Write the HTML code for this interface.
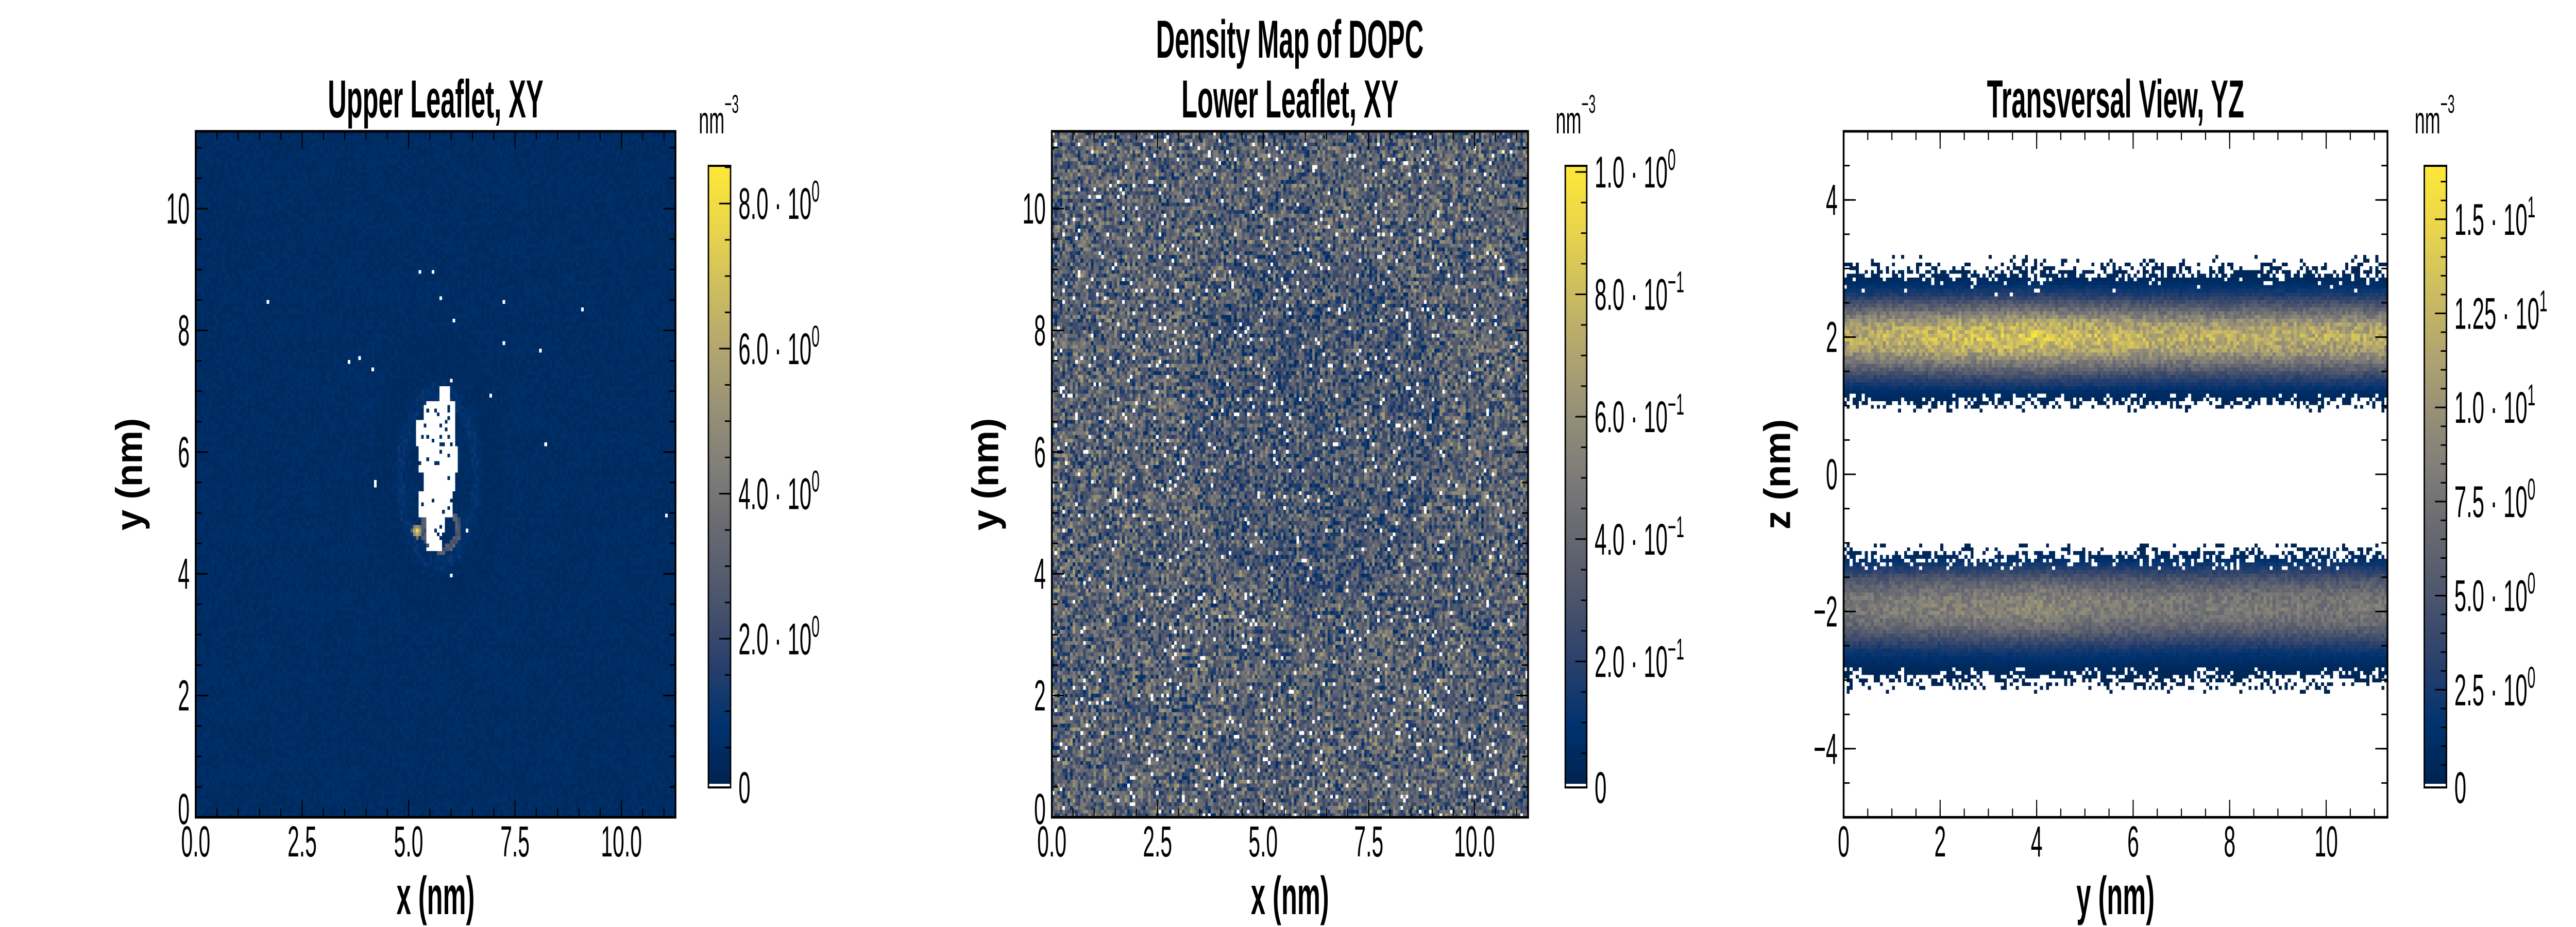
<!DOCTYPE html>
<html><head><meta charset="utf-8">
<style>
html,body{margin:0;padding:0;background:#fff;width:100%;height:100%;overflow:hidden;}
#root{position:absolute;left:0;top:0;width:7200px;height:1800px;overflow:hidden;background:#fff;transform-origin:0 0;}
canvas{position:absolute;image-rendering:pixelated;image-rendering:crisp-edges;}
svg{position:absolute;left:0;top:0;overflow:hidden;}
text{font-family:"Liberation Sans",sans-serif;fill:#000;}
</style></head>
<body>
<div id="root">
<svg id="ov" width="7200" height="1800" viewBox="0 0 7200 1800"></svg>
</div>
<script>
// ---------- data ----------
const upperBackground = [0.55];
const holeRowY  = [6.85, 6.6, 6.3, 5.9, 5.5, 5.15, 4.9, 4.6];
const holeRowX0 = [5.73, 5.34, 5.15, 5.21, 5.34, 5.21, 5.41, 5.45];
const holeRowX1 = [5.99, 6.12, 6.12, 6.18, 6.12, 6.05, 5.86, 5.81];
const emptyX = [1.72,5.24,5.60,5.78,7.22,9.10,6.09,7.22,8.11,3.60,3.85,4.15,6.03,6.91,8.24,4.22,6.35,5.98,11.04];
const emptyY = [8.49,8.98,8.98,8.55,8.49,8.37,8.17,7.79,7.67,7.48,7.55,7.36,7.17,6.93,6.11,5.48,4.74,3.98,4.98];
const hotX = [5.2];
const hotY = [4.7];
const hotV = [8.4];
const lowerMean = [0.36];
const lowerSpread = [0.22];
const lowerEmptyFrac = [0.03];
const zPos   = [-3.2,-3.0,-2.8,-2.6,-2.4,-2.2,-2.0,-1.8,-1.6,-1.4,-1.2,-1.0, 0.9, 1.0, 1.2, 1.4, 1.6, 1.8, 2.0, 2.2, 2.4, 2.6, 2.8, 3.0, 3.2];
const zDens  = [ 0.0, 0.3, 0.8, 2.0, 4.2, 6.8, 8.2, 8.0, 6.0, 3.2, 0.9, 0.0, 0.0, 0.3, 1.2, 3.5, 7.2,11.0,12.6,10.8, 6.5, 3.0, 1.0, 0.3, 0.0];
const zOccup = [ 0.0, 0.45,1.0,1.0, 1.0, 1.0, 1.0, 1.0, 1.0, 1.0, 0.55,0.0, 0.0, 0.35,1.0, 1.0, 1.0, 1.0, 1.0, 1.0, 1.0, 1.0, 0.95,0.35,0.0];
const yModPos = [0, 2, 4, 5, 7, 9, 11.3];
const yModVal = [0.95, 1.05, 1.12, 1.05, 0.97, 0.97, 0.97];
const xyTicks = [0, 2.5, 5, 7.5, 10];
const xyTickLabels = ["0.0","2.5","5.0","7.5","10.0"];
const yTicks = [0,2,4,6,8,10];
const yzXTicks = [0,2,4,6,8,10];
const zTicks = [-4,-2,0,2,4];
const zTickLabels = ["\u22124","\u22122","0","2","4"];
const cb1Ticks = [2,4,6,8], cb1Mant = ["2.0","4.0","6.0","8.0"], cb1Exp = ["0","0","0","0"];
const cb2Ticks = [0.2,0.4,0.6,0.8,1.0], cb2Mant = ["2.0","4.0","6.0","8.0","1.0"], cb2Exp = ["\u22121","\u22121","\u22121","\u22121","0"];
const cb3Ticks = [2.5,5,7.5,10,12.5,15], cb3Mant = ["2.5","5.0","7.5","1.0","1.25","1.5"], cb3Exp = ["0","0","0","1","1","1"];

// ---------- helpers ----------
const NS="http://www.w3.org/2000/svg";
const ov=document.getElementById('ov');
const root=document.getElementById('root');
const SX=0.7;
const stops=[[0,[0,34,78]],[0.1,[0,50,111]],[0.2,[42,64,108]],[0.3,[74,84,108]],[0.4,[101,103,112]],[0.5,[124,123,120]],[0.6,[149,143,119]],[0.7,[177,165,111]],[0.8,[205,189,96]],[0.9,[233,213,76]],[1,[254,232,56]]];
function cmap(t){t=Math.max(0,Math.min(1,t));for(let i=1;i<stops.length;i++){if(t<=stops[i][0]){const a=stops[i-1],b=stops[i];const f=(t-a[0])/(b[0]-a[0]);return [0,1,2].map(k=>Math.round(a[1][k]+(b[1][k]-a[1][k])*f));}}return stops[stops.length-1][1];}
function hash(i,j,s){let h=(i*374761393+j*668265263+s*982451653)|0;h=(h^(h>>>13))*1274126177|0;h=h^(h>>>16);return ((h>>>0)%100000)/100000;}
function interp(xs,ys,x){if(x<=xs[0])return ys[0];for(let i=1;i<xs.length;i++){if(x<=xs[i]){const f=(x-xs[i-1])/(xs[i]-xs[i-1]);return ys[i-1]+(ys[i]-ys[i-1])*f;}}return ys[ys.length-1];}
function el(tag,attrs,parent){const e=document.createElementNS(NS,tag);for(const k in attrs)e.setAttribute(k,attrs[k]);(parent||ov).appendChild(e);return e;}
function txt(x,y,s,size,anchor,weight,parent,rot){
  const t=el('text',{x:0,y:0,'font-size':size,'text-anchor':anchor||'middle','font-weight':weight||'normal',
    transform:'translate('+x+' '+y+')'+(rot?' rotate('+rot+')':'')+' scale('+SX+' 1)'},parent);
  t.textContent=s;return t;}

function makeCanvas(name,L,T,W,H,nx,ny){const c=document.createElement('canvas');c.width=nx;c.height=ny;c.style.left=L+'px';c.style.top=T+'px';c.style.width=W+'px';c.style.height=H+'px';


root.insertBefore(c,ov);return c;}

function axes(p){
  const g=el('g',{});
  
  
  const sx=v=>p.L+(v-p.x0)/(p.x1-p.x0)*(p.R-p.L);
  const sy=v=>p.B-(v-p.y0)/(p.y1-p.y0)*(p.B-p.T);
  for(let v=p.x0;v<=p.x1+1e-9;v+=p.xMinor){const x=sx(v);el('line',{x1:x,y1:p.B,x2:x,y2:p.B-17,stroke:'#000','stroke-width':3},g);el('line',{x1:x,y1:p.T,x2:x,y2:p.T+17,stroke:'#000','stroke-width':3},g);}
  for(let v=Math.ceil(p.y0/p.yMinor)*p.yMinor;v<=p.y1+1e-9;v+=p.yMinor){const y=sy(v);el('line',{x1:p.L,y1:y,x2:p.L+17,y2:y,stroke:'#000','stroke-width':3},g);el('line',{x1:p.R,y1:y,x2:p.R-17,y2:y,stroke:'#000','stroke-width':3},g);}
  p.xTicks.forEach((v,i)=>{const x=sx(v);el('line',{x1:x,y1:p.B,x2:x,y2:p.B-34,stroke:'#000','stroke-width':3},g);el('line',{x1:x,y1:p.T,x2:x,y2:p.T+34,stroke:'#000','stroke-width':3},g);
    const t=txt(x,1663,p.xLabels[i],84,'middle','normal',g);
    
    });
  p.yTicks.forEach((v,i)=>{const y=sy(v);el('line',{x1:p.L,y1:y,x2:p.L+34,y2:y,stroke:'#000','stroke-width':3},g);el('line',{x1:p.R,y1:y,x2:p.R-34,y2:y,stroke:'#000','stroke-width':3},g);
    const t=txt(p.L-17,(v===p.y0?y+13:y+29),p.yLabels[i],84,'end','normal',g);
    
    });
  el('rect',{x:p.L,y:p.T,width:p.R-p.L,height:p.B-p.T,fill:'none',stroke:'#000','stroke-width':5},g);
  const xl=txt((p.L+p.R)/2,1775,p.xTitle,104,'middle','bold',g);
  
  
  const yl=txt(p.L-p.yTitleOff,(p.T+p.B)/2,p.yTitle,104,'middle','bold',g,-90);
  
  
  const tt=txt((p.L+p.R)/2,228,p.title,104,'middle','bold',g);
  
  
}

function colorbar(name,L,W,vmax,ticks,mant,exps,minor){
  const T=322,B=1529;
  const c=makeCanvas(name+'-gradient',L,T,W,B-T,1,600);
  const ctx=c.getContext('2d');const im=ctx.createImageData(1,600);
  for(let j=0;j<600;j++){const col=cmap(1-j/599);const k=j*4;im.data[k]=col[0];im.data[k+1]=col[1];im.data[k+2]=col[2];im.data[k+3]=255;}
  ctx.putImageData(im,0,0);
  const g=el('g',{});
  
  
  el('rect',{x:L,y:B-7,width:W,height:7,fill:'#fff'},g);
  const sy=v=>B-7-(v/vmax)*(B-7-T);
  for(let v=minor;v<vmax;v+=minor){el('line',{x1:L+W,y1:sy(v),x2:L+W-16,y2:sy(v),stroke:'#000','stroke-width':3},g);}
  ticks.forEach((v,i)=>{const y=sy(v);el('line',{x1:L+W,y1:y,x2:L+W-32,y2:y,stroke:'#000','stroke-width':3},g);
    const t=el('text',{x:0,y:0,'font-size':86,transform:'translate('+(L+W+22)+' '+(y+30)+') scale('+SX+' 1)'},g);
    
    
    t.textContent=mant[i]+' \u00b7 10';
    const s=el('tspan',{dy:-34,'font-size':58},t);s.textContent=exps[i];});
  const z=txt(L+W+22,B+30,'0',86,'start','normal',g);
  
  
  el('rect',{x:L,y:T,width:W,height:B-T,fill:'none',stroke:'#000','stroke-width':4},g);
  const u=el('text',{x:0,y:0,'font-size':74,transform:'translate('+(L-27)+' 259) scale('+SX+' 1)'},g);
  
  
  u.textContent='nm';const s=el('tspan',{dy:-40,'font-size':50},u);s.textContent='\u22123';
}

// ---------- panel 1 ----------
(function(){
  const N=183, ext=11.27, vmax=8.52;
  const c=makeCanvas('upper-leaflet-heatmap',547,255,1341,1332,N,N);
  const ctx=c.getContext('2d');const im=ctx.createImageData(N,N);
  for(let j=0;j<N;j++)for(let i=0;i<N;i++){
    const x=(i+0.5)*ext/N, y=(N-1-j+0.5)*ext/N;
    let v=upperBackground[0]*(0.65+0.7*hash(i,j,1));
    const dx=(x-5.7), dy=(y-5.6); const r=Math.sqrt(dx*dx*2.2+dy*dy*0.9);
    if(r>1.2&&r<1.45) v+=0.5*hash(i,j,5);
    if(r>1.6&&r<2.3) v*=0.85;
    const rr=Math.sqrt((x-5.75)*(x-5.75)*1.6+(y-4.75)*(y-4.75)*2.2);
    if(rr>0.45&&rr<0.62&&y<5.0) v+=1.6+hash(i,j,7);
    for(let h=0;h<hotX.length;h++){const d=Math.hypot(x-hotX[h],y-hotY[h]);if(d<0.12)v=Math.max(v,hotV[h]*(1-d/0.2));}
    let empty=false;
    for(let k=0;k<holeRowY.length;k++){if(Math.abs(y-holeRowY[k])<0.22&&x>=holeRowX0[k]&&x<=holeRowX1[k])empty=true;}
    if(empty&&hash(i,j,13)<0.07)empty=false;
    for(let k=0;k<emptyX.length;k++){if(Math.abs(x-emptyX[k])<ext/N/1.9&&Math.abs(y-emptyY[k])<ext/N/1.9)empty=true;}
    const col=empty?[255,255,255]:cmap(v/vmax);const q=(j*N+i)*4;
    im.data[q]=col[0];im.data[q+1]=col[1];im.data[q+2]=col[2];im.data[q+3]=255;}
  ctx.putImageData(im,0,0);
  axes({name:'upper-leaflet',L:547,R:1888,T:255,B:1587,x0:0,x1:11.27,y0:0,y1:11.27,xMinor:0.5,yMinor:0.5,
    xTicks:xyTicks,xLabels:xyTickLabels,yTicks:yTicks,yLabels:yTicks.map(String),xTitle:'x (nm)',yTitle:'y (nm)',yTitleOff:150,title:'Upper Leaflet, XY'});
  colorbar('upper-colorbar',1980,62,8.52,cb1Ticks,cb1Mant,cb1Exp,0.5);
})();

// ---------- panel 2 ----------
(function(){
  const N=183, ext=11.27, vmax=1.01;
  const c=makeCanvas('lower-leaflet-heatmap',2940,255,1331,1332,N,N);
  const ctx=c.getContext('2d');const im=ctx.createImageData(N,N);
  for(let j=0;j<N;j++)for(let i=0;i<N;i++){
    const x=(i+0.5)*ext/N, y=(N-1-j+0.5)*ext/N;
    const u=hash(i,j,3);
    let v=lowerMean[0]+lowerSpread[0]*(u+hash(i,j,4)-1)*1.6;
    const d=Math.sqrt((x-6.2)*(x-6.2)+(y-6.5)*(y-6.5));
    if(d<3) v-=0.05;
    v=Math.max(0.08,Math.round(v*12)/12);
    const empty=hash(i,j,8)<lowerEmptyFrac[0];
    const col=empty?[255,255,255]:cmap(v/vmax);const q=(j*N+i)*4;
    im.data[q]=col[0];im.data[q+1]=col[1];im.data[q+2]=col[2];im.data[q+3]=255;}
  ctx.putImageData(im,0,0);
  axes({name:'lower-leaflet',L:2940,R:4271,T:255,B:1587,x0:0,x1:11.27,y0:0,y1:11.27,xMinor:0.5,yMinor:0.5,
    xTicks:xyTicks,xLabels:xyTickLabels,yTicks:yTicks,yLabels:yTicks.map(String),xTitle:'x (nm)',yTitle:'y (nm)',yTitleOff:150,title:'Lower Leaflet, XY'});
  const st=txt(3605,112,'Density Map of DOPC',104,'middle','bold');
  
  
  colorbar('lower-colorbar',4375,60,1.01,cb2Ticks,cb2Mant,cb2Exp,0.05);
})();

// ---------- panel 3 ----------
(function(){
  const NX=180, NZ=183, ext=11.27, vmax=16.42;
  const c=makeCanvas('transversal-heatmap',5153,255,1520,1332,NX,NZ);
  const ctx=c.getContext('2d');const im=ctx.createImageData(NX,NZ);
  for(let j=0;j<NZ;j++)for(let i=0;i<NX;i++){
    const y=(i+0.5)*ext/NX, z=5-(j+0.5)*10/NZ;
    const occ=interp(zPos,zOccup,z);
    let col=[255,255,255];
    if(occ>0&&hash(i,j,11)<occ){
      let v=interp(zPos,zDens,z)*interp(yModPos,yModVal,y)*(0.82+0.36*hash(i,j,12));
      col=cmap(v/vmax);}
    const q=(j*NX+i)*4;im.data[q]=col[0];im.data[q+1]=col[1];im.data[q+2]=col[2];im.data[q+3]=255;}
  ctx.putImageData(im,0,0);
  axes({name:'transversal',L:5153,R:6673,T:255,B:1587,x0:0,x1:11.27,y0:-5,y1:5,xMinor:0.5,yMinor:0.5,
    xTicks:yzXTicks,xLabels:yzXTicks.map(String),yTicks:zTicks,yLabels:zTickLabels,xTitle:'y (nm)',yTitle:'z (nm)',yTitleOff:150,title:'Transversal View, YZ'});
  colorbar('transversal-colorbar',6776,62,16.42,cb3Ticks,cb3Mant,cb3Exp,0.5);
})();

// fill the viewport with the 7200x1800 figure
(function(){
  const w=window.innerWidth||document.documentElement.clientWidth;
  const h=window.innerHeight||document.documentElement.clientHeight;
  if(w>0&&h>0&&(Math.abs(w-7200)>5||Math.abs(h-1800)>5)){
    root.style.transform='scale('+(w/7200)+','+(h/1800)+')';
  }
})();
</script>
</body></html>
